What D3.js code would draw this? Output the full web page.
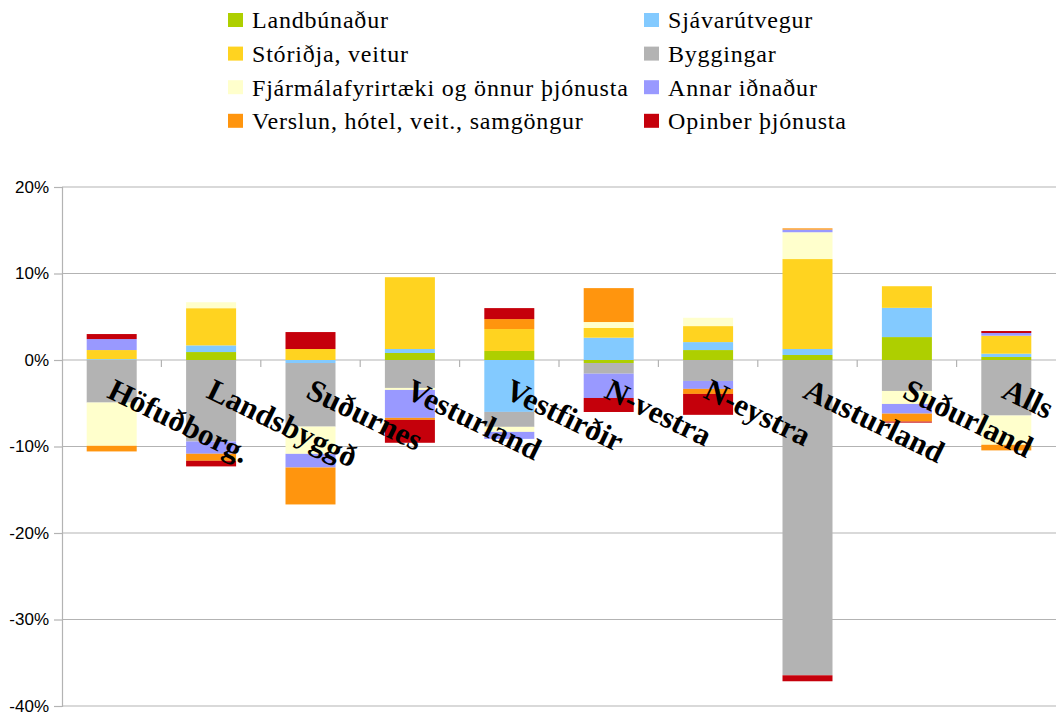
<!DOCTYPE html>
<html>
<head>
<meta charset="utf-8">
<script src="https://cdn.jsdelivr.net/npm/d3@7"></script>
<style>
  body { margin: 0; background: #fff; }
  svg { display: block; }
</style>
</head>
<body>
<div id="chart"></div>
<script>
// regions (category axis)
const categories = ['Höfuðborg.', 'Landsbyggð', 'Suðurnes', 'Vesturland', 'Vestfirðir',
  'N-vestra', 'N-eystra', 'Austurland', 'Suðurland', 'Alls'];

// series, values in %
const landbunadur = [0, 0.92, 0, 0.81, 1.04, -0.35, 1.15, 0.58, 2.65, 0.35];
const sjavarutvegur = [0.1, 0.77, -0.35, 0.46, -6.0, 2.58, 0.92, 0.69, 3.38, 0.38];
const storidja = [1.05, 4.3, 1.27, 8.3, 2.54, 1.12, 1.85, 10.4, 2.5, 2.08];
const byggingar = [-4.92, -9.42, -7.35, -3.23, -1.73, -1.23, -2.42, -36.45, -3.58, -6.42];
const fjarmal = [-5.0, 0.69, -3.15, -0.23, -0.58, 0.69, 0.96, 3.1, -1.5, -3.38];
const annarIdnadur = [1.27, -1.42, -1.58, -3.23, -0.81, -2.81, -0.92, 0.3, -1.12, 0.31];
const verslun = [-0.65, -0.81, -4.27, -0.23, 1.15, 3.92, -0.58, 0.15, -0.92, -0.65];
const opinber = [0.58, -0.65, 1.96, -2.65, 1.27, -1.62, -2.42, -0.69, -0.12, 0.23];

const seriesNames = ['Landbúnaður', 'Sjávarútvegur', 'Stóriðja, veitur', 'Byggingar',
  'Fjármálafyrirtæki og önnur þjónusta', 'Annar iðnaður',
  'Verslun, hótel, veit., samgöngur', 'Opinber þjónusta'];
const seriesValues = [landbunadur, sjavarutvegur, storidja, byggingar, fjarmal, annarIdnadur, verslun, opinber];
const colors = ['#aecf00', '#83caff', '#ffd320', '#b3b3b3', '#ffffcc', '#9999ff', '#ff950e', '#c5000b'];

const yTicks = [20, 10, 0, -10, -20, -30, -40];

const width = 1057, height = 717;
const margin = {top: 187, right: 1, bottom: 11, left: 62};

const svg = d3.select('#chart').append('svg')
  .attr('width', width)
  .attr('height', height);

// rows for the stack
const table = categories.map((c, i) => {
  const row = {cat: c};
  seriesNames.forEach((s, j) => { row[s] = seriesValues[j][i]; });
  return row;
});

const stacked = d3.stack()
  .keys(seriesNames)
  .offset(d3.stackOffsetDiverging)(table);

const x = d3.scaleBand()
  .domain(categories)
  .range([margin.left, width - margin.right])
  .paddingInner(0)
  .paddingOuter(0);

const y = d3.scaleLinear()
  .domain([-40, 20])
  .range([height - margin.bottom, margin.top]);

const barW = 50;

// gridlines
svg.append('g')
  .selectAll('line')
  .data(yTicks)
  .enter().append('line')
  .attr('x1', margin.left)
  .attr('x2', width - margin.right)
  .attr('y1', d => y(d))
  .attr('y2', d => y(d))
  .attr('stroke', '#b3b3b3')
  .attr('stroke-width', 1.2);

// y axis
const yAxis = svg.append('g')
  .attr('transform', 'translate(' + margin.left + ',0)')
  .call(d3.axisLeft(y).tickValues(yTicks).tickSize(8).tickPadding(5).tickFormat(d => d + '%'));
yAxis.select('.domain').attr('stroke', '#b3b3b3').attr('stroke-width', 1.2);
yAxis.selectAll('.tick line').attr('stroke', '#b3b3b3').attr('stroke-width', 1.2);
yAxis.selectAll('text')
  .attr('font-family', '"Liberation Sans", Arial, sans-serif')
  .attr('font-size', 17)
  .attr('fill', '#000');

// bars
svg.append('g')
  .selectAll('g')
  .data(stacked)
  .enter().append('g')
  .attr('fill', (d, i) => colors[i])
  .selectAll('rect')
  .data(d => d)
  .enter().append('rect')
  .attr('x', d => x(d.data.cat) + (x.bandwidth() - barW) / 2)
  .attr('width', barW)
  .attr('y', d => y(Math.max(d[0], d[1])))
  .attr('height', d => Math.abs(y(d[0]) - y(d[1])));

// category ticks hanging under the zero line
const xAxis = svg.append('g')
  .attr('transform', 'translate(0,' + y(0) + ')');
xAxis.selectAll('line')
  .data(categories.slice(1))
  .enter().append('line')
  .attr('x1', d => x(d))
  .attr('x2', d => x(d))
  .attr('y1', 0)
  .attr('y2', 7)
  .attr('stroke', '#b3b3b3')
  .attr('stroke-width', 1.2);

// category labels, rotated over the bars (the last one runs off the edge, as in the original)
svg.append('g')
  .selectAll('text')
  .data(categories)
  .enter().append('text')
  .attr('transform', d => 'translate(' + (x(d) + x.bandwidth() / 2 - 6) + ',' + 397 + ') rotate(26)')
  .attr('font-family', '"Liberation Serif", "Times New Roman", serif')
  .attr('font-weight', 'bold')
  .attr('font-size', 31)
  .attr('fill', '#000')
  .text(d => d);

// legend, two columns
const legend = svg.append('g');
const legendItems = legend.selectAll('g')
  .data(seriesNames)
  .enter().append('g')
  .attr('transform', (d, i) => 'translate(' + (i % 2 === 0 ? 228 : 644) + ',' + (13 + Math.floor(i / 2) * 33.6) + ')');
legendItems.append('rect')
  .attr('width', 15)
  .attr('height', 14)
  .attr('fill', (d, i) => colors[i]);
legendItems.append('text')
  .attr('x', 24)
  .attr('y', 7)
  .attr('dy', '0.35em')
  .attr('font-family', '"Liberation Serif", "Times New Roman", serif')
  .attr('font-size', 24)
  .attr('letter-spacing', 0.8)
  .attr('fill', '#000')
  .text(d => d);
</script>
</body>
</html>
